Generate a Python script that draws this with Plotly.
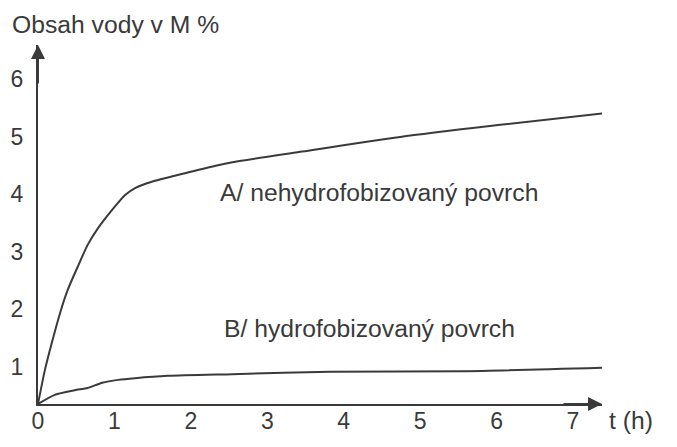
import plotly.graph_objects as go

# Curve A: non-hydrophobized surface (time in h, water content in M %)
t_a = [0, 0.09, 0.18, 0.29, 0.39, 0.52, 0.65, 0.79, 0.97, 1.14, 1.27, 1.49, 1.75,
       2.08, 2.51, 3.43, 4.74, 6.05, 7.45]
w_a = [0, 0.59, 1.06, 1.59, 1.99, 2.39, 2.77, 3.07, 3.38, 3.64, 3.76, 3.87, 3.96,
       4.07, 4.20, 4.39, 4.65, 4.86, 5.07]

# Curve B: hydrophobized surface
t_b = [0, 0.22, 0.48, 0.65, 0.84, 1.05, 1.27, 1.70, 2.54, 3.82, 5.56, 7.40]
w_b = [0, 0.16, 0.24, 0.28, 0.37, 0.42, 0.45, 0.49, 0.52, 0.56, 0.57, 0.63]

x_ticks = [0, 1, 2, 3, 4, 5, 6, 7]
y_ticks = [1, 2, 3, 4, 5, 6]

label_a = "A/ nehydrofobizovaný povrch"
label_b = "B/ hydrofobizovaný povrch"
y_title = "Obsah vody v M %"
x_title = "t (h)"

ink = "#3a3a3a"
font = dict(family="Liberation Sans, Arial, sans-serif", size=24.7, color=ink)
tick_font = dict(family="Liberation Sans, Arial, sans-serif", size=23, color=ink)

fig = go.Figure()
fig.add_trace(go.Scatter(x=t_a, y=w_a, mode="lines",
                         line=dict(color=ink, width=2, shape="spline", smoothing=0.7),
                         showlegend=False, hoverinfo="skip"))
fig.add_trace(go.Scatter(x=t_b, y=w_b, mode="lines",
                         line=dict(color=ink, width=2, shape="spline", smoothing=0.7),
                         showlegend=False, hoverinfo="skip"))

# page body has an 8px margin, so the figure is sized to fit inside it
fig.update_layout(
    width=661, height=431,
    margin=dict(l=30, r=67, t=37, b=35),
    paper_bgcolor="white", plot_bgcolor="white",
    font=font,
    xaxis=dict(range=[0, 7.38], tickvals=x_ticks, ticktext=[str(v) for v in x_ticks],
               showgrid=False, zeroline=False, showline=True, linecolor=ink, linewidth=2,
               ticks="", ticklabelstandoff=-5, tickfont=tick_font, automargin=False,
               fixedrange=True),
    yaxis=dict(range=[0, 6.25], tickvals=y_ticks, ticktext=[str(v) for v in y_ticks],
               showgrid=False, zeroline=False, showline=True, linecolor=ink, linewidth=2,
               ticks="", ticklabelstandoff=8, ticklabelshift=20, tickfont=tick_font,
               automargin=False, fixedrange=True),
)

# axis arrowheads
fig.add_annotation(xref="x domain", yref="y domain", x=1, y=0, ax=-40, ay=0,
                   axref="pixel", ayref="pixel", text="", showarrow=True,
                   arrowhead=2, arrowsize=1.4, arrowwidth=2, arrowcolor=ink)
fig.add_annotation(xref="x domain", yref="y domain", x=0, y=1, ax=0, ay=40,
                   axref="pixel", ayref="pixel", text="", showarrow=True,
                   arrowhead=2, arrowsize=1.4, arrowwidth=2, arrowcolor=ink)

# axis titles
fig.add_annotation(xref="paper", yref="paper", x=0, y=1, xshift=-28, yshift=21,
                   xanchor="left", yanchor="middle", text=y_title, showarrow=False, font=font)
fig.add_annotation(xref="paper", yref="paper", x=1, y=0, xshift=5, yshift=-16,
                   xanchor="left", yanchor="middle", text=x_title, showarrow=False, font=font)

# curve labels
fig.add_annotation(x=2.35, y=3.69, xanchor="left", yanchor="middle", text=label_a,
                   showarrow=False, font=font)
fig.add_annotation(x=2.41, y=1.32, xanchor="left", yanchor="middle", text=label_b,
                   showarrow=False, font=font)

fig.write_html("out.html")
